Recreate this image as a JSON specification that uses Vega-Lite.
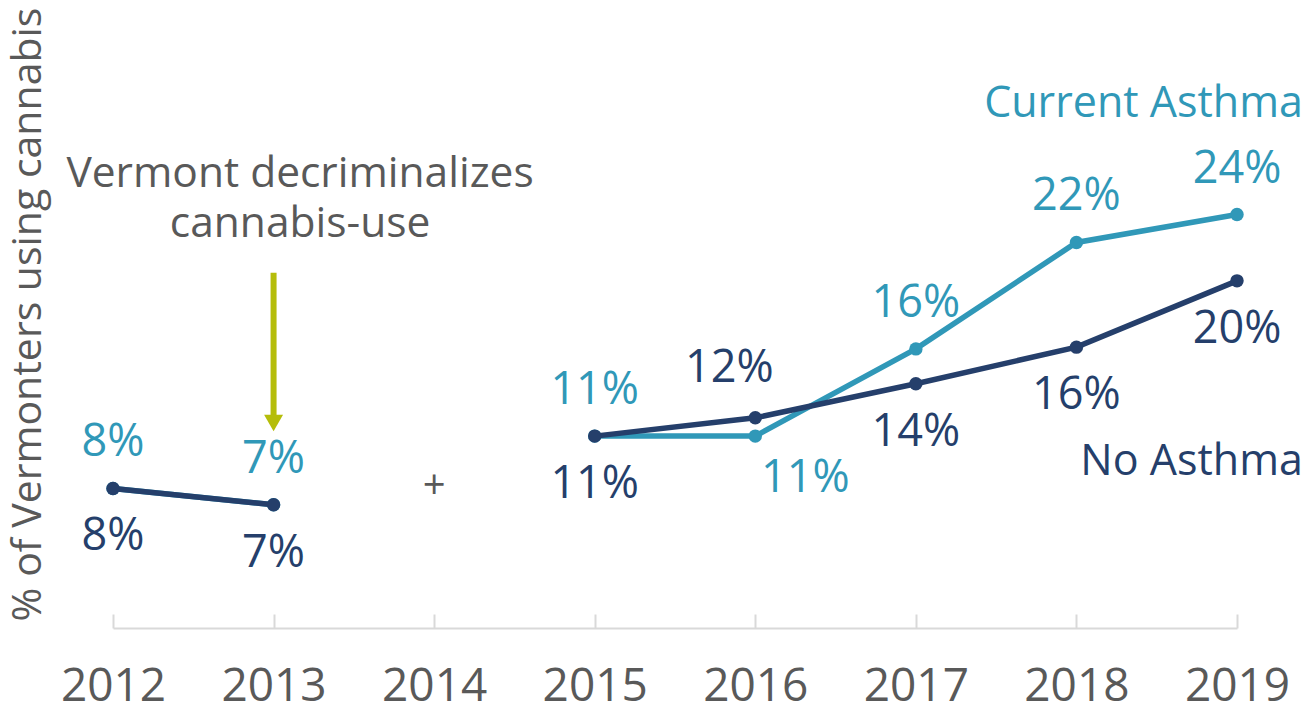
{
  "$schema": "https://vega.github.io/schema/vega-lite/v6.json",
  "autosize": {"type": "none"},
  "padding": {"left": 113, "top": 0, "right": 69, "bottom": 81},
  "width": 1124,
  "height": 628,
  "config": {
    "view": {"stroke": null},
    "font": "Open Sans",
    "text": {"font": "Open Sans", "fontSize": 45}
  },
  "datasets": {
    "series": [
      {"series": "Current Asthma", "period": "early", "year": 2012, "value": 8.0, "label": "8%"},
      {"series": "Current Asthma", "period": "early", "year": 2013, "value": 7.07, "label": "7%"},
      {"series": "Current Asthma", "period": "late", "year": 2015, "value": 11.0, "label": "11%"},
      {"series": "Current Asthma", "period": "late", "year": 2016, "value": 11.0, "label": "11%"},
      {"series": "Current Asthma", "period": "late", "year": 2017, "value": 16.0, "label": "16%"},
      {"series": "Current Asthma", "period": "late", "year": 2018, "value": 22.1, "label": "22%"},
      {"series": "Current Asthma", "period": "late", "year": 2019, "value": 23.7, "label": "24%"},
      {"series": "No Asthma", "period": "early", "year": 2012, "value": 8.0, "label": "8%"},
      {"series": "No Asthma", "period": "early", "year": 2013, "value": 7.07, "label": "7%"},
      {"series": "No Asthma", "period": "late", "year": 2015, "value": 11.0, "label": "11%"},
      {"series": "No Asthma", "period": "late", "year": 2016, "value": 12.05, "label": "12%"},
      {"series": "No Asthma", "period": "late", "year": 2017, "value": 14.0, "label": "14%"},
      {"series": "No Asthma", "period": "late", "year": 2018, "value": 16.1, "label": "16%"},
      {"series": "No Asthma", "period": "late", "year": 2019, "value": 19.9, "label": "20%"}
    ],
    "notes": [
      {"kind": "legendCA", "text": "Current Asthma", "year": 2019.41, "value": 29.3},
      {"kind": "legendNA", "text": "No Asthma", "year": 2019.41, "value": 8.77},
      {"kind": "gap", "text": "+", "year": 2014, "value": 8.08},
      {"kind": "event", "text": "Vermont decriminalizes", "year": 2013.165, "value": 25.29},
      {"kind": "event", "text": "cannabis-use", "year": 2013.165, "value": 22.42}
    ],
    "arrow": [
      {"year": 2013, "value": 20.36, "value2": 12.2, "tip": 11.75}
    ]
  },
  "encoding": {
    "x": {
      "field": "year", "type": "quantitative",
      "scale": {"domain": [2012, 2019], "nice": false, "zero": false},
      "axis": {
        "title": null, "values": [2012, 2013, 2014, 2015, 2016, 2017, 2018, 2019],
        "format": "d", "grid": false,
        "labelFont": "Open Sans", "labelFontSize": 46, "labelColor": "#595959",
        "labelBaseline": "alphabetic", "labelPadding": 86,
        "labelFlush": false, "labelOverlap": false, "labelBound": false,
        "domainColor": "#D9D9D9", "domainWidth": 2,
        "tickColor": "#D9D9D9", "tickWidth": 2, "tickSize": -14
      }
    },
    "y": {
      "field": "value", "type": "quantitative",
      "scale": {"domain": [0, 36], "nice": false},
      "axis": {
        "title": "% of Vermonters using cannabis",
        "labels": false, "ticks": false, "domain": false, "grid": false,
        "titleFont": "Open Sans", "titleFontSize": 41, "titleFontWeight": "normal",
        "titleColor": "#595959", "titleAngle": -90, "titleAlign": "center",
        "titleBaseline": "alphabetic", "titleX": -73, "titleY": 314
      }
    }
  },
  "layer": [
    {
      "data": {"name": "series"},
      "transform": [{"filter": "datum.series === 'Current Asthma'"}],
      "mark": {"type": "line", "color": "#3098B8", "strokeWidth": 5.5},
      "encoding": {"detail": {"field": "period"}}
    },
    {
      "data": {"name": "series"},
      "transform": [{"filter": "datum.series === 'Current Asthma'"}],
      "mark": {"type": "point", "filled": true, "color": "#3098B8", "size": 180, "opacity": 1}
    },
    {
      "data": {"name": "series"},
      "transform": [{"filter": "datum.series === 'No Asthma'"}],
      "mark": {"type": "line", "color": "#253F6B", "strokeWidth": 5.5},
      "encoding": {"detail": {"field": "period"}}
    },
    {
      "data": {"name": "series"},
      "transform": [{"filter": "datum.series === 'No Asthma'"}],
      "mark": {"type": "point", "filled": true, "color": "#253F6B", "size": 180, "opacity": 1}
    },
    {
      "data": {"name": "series"},
      "transform": [{"filter": "datum.series === 'Current Asthma' && datum.year !== 2016"}],
      "mark": {"type": "text", "color": "#3098B8", "baseline": "middle", "align": "center", "dy": -46},
      "encoding": {"text": {"field": "label"}}
    },
    {
      "data": {"name": "series"},
      "transform": [{"filter": "datum.series === 'Current Asthma' && datum.year === 2016"}],
      "mark": {"type": "text", "color": "#3098B8", "baseline": "middle", "align": "center", "dy": 42, "dx": 50},
      "encoding": {"text": {"field": "label"}}
    },
    {
      "data": {"name": "series"},
      "transform": [{"filter": "datum.series === 'No Asthma' && datum.year !== 2016"}],
      "mark": {"type": "text", "color": "#253F6B", "baseline": "middle", "align": "center", "dy": 48},
      "encoding": {"text": {"field": "label"}}
    },
    {
      "data": {"name": "series"},
      "transform": [{"filter": "datum.series === 'No Asthma' && datum.year === 2016"}],
      "mark": {"type": "text", "color": "#253F6B", "baseline": "middle", "align": "center", "dy": -50, "dx": -26},
      "encoding": {"text": {"field": "label"}}
    },
    {
      "data": {"name": "notes"},
      "transform": [{"filter": "datum.kind === 'legendCA'"}],
      "mark": {"type": "text", "color": "#3098B8", "baseline": "alphabetic", "align": "right", "fontSize": 43},
      "encoding": {"text": {"field": "text"}}
    },
    {
      "data": {"name": "notes"},
      "transform": [{"filter": "datum.kind === 'legendNA'"}],
      "mark": {"type": "text", "color": "#253F6B", "baseline": "alphabetic", "align": "right", "fontSize": 43},
      "encoding": {"text": {"field": "text"}}
    },
    {
      "data": {"name": "notes"},
      "transform": [{"filter": "datum.kind === 'gap'"}],
      "mark": {"type": "text", "color": "#595959", "baseline": "middle", "align": "center", "fontSize": 40},
      "encoding": {"text": {"field": "text"}}
    },
    {
      "data": {"name": "notes"},
      "transform": [{"filter": "datum.kind === 'event'"}],
      "mark": {"type": "text", "color": "#595959", "baseline": "alphabetic", "align": "center", "fontSize": 42.5},
      "encoding": {"text": {"field": "text"}}
    },
    {
      "data": {"name": "arrow"},
      "mark": {"type": "rule", "color": "#B5BD0A", "strokeWidth": 6},
      "encoding": {"y2": {"field": "value2"}}
    },
    {
      "data": {"name": "arrow"},
      "mark": {"type": "point", "shape": "triangle-down", "filled": true, "color": "#B5BD0A", "size": 360, "opacity": 1},
      "encoding": {"y": {"field": "tip", "type": "quantitative"}}
    }
  ]
}
